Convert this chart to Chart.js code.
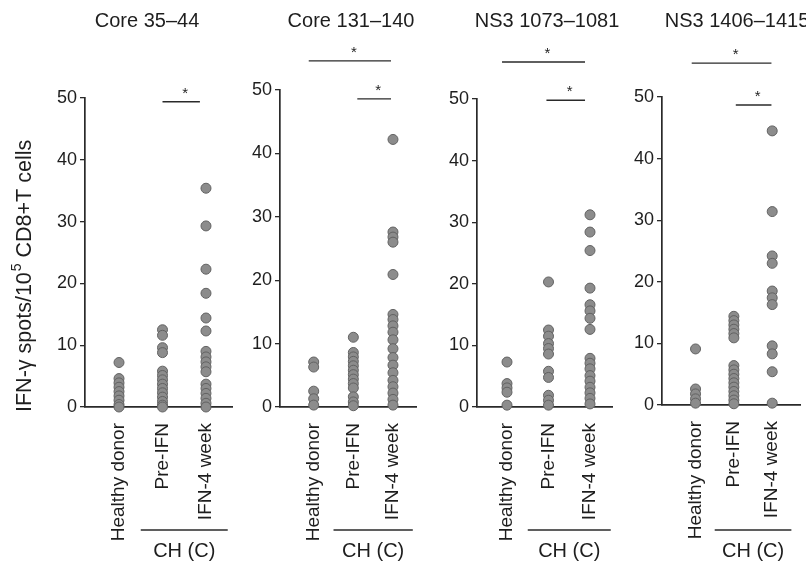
<!DOCTYPE html>
<html>
<head>
<meta charset="utf-8">
<script src="https://cdn.jsdelivr.net/npm/chart.js@4.4.1/dist/chart.umd.min.js"></script>
<style>
html, body { margin: 0; padding: 0; background: #fff; }
#wrap { position: relative; width: 806px; height: 562px; overflow: hidden; }
#wrap canvas { position: absolute; top: 0; }
</style>
</head>
<body>
<div id="wrap"></div>
<script>
var groups = ['Healthy donor', 'Pre-IFN', 'IFN-4 week'];
var titles = ['Core 35–44', 'Core 131–140', 'NS3 1073–1081', 'NS3 1406–1415'];
var yTicks = [0, 10, 20, 30, 40, 50];
var yTitle = ['IFN-γ spots/10', '5', ' CD8+T cells'];
var groupLabel = 'CH (C)';

// values (spots / 10^5 CD8+ T cells)
var core35Healthy = [7.2, 4.6, 3.9, 3.2, 2.5, 1.8, 1.1, 0.4, 0];
var core35Pre = [12.5, 11.6, 9.6, 8.8, 5.8, 5.1, 4.4, 3.7, 3.0, 2.3, 1.6, 0.9, 0.3, 0];
var core35Wk4 = [35.4, 29.3, 22.3, 18.4, 14.4, 12.3, 9, 8.1, 7.3, 6.5, 5.7, 3.7, 3.0, 2.2, 1.4, 0.6, 0];

var core131Healthy = [7.1, 6.3, 2.5, 1.3, 0.3];
var core131Pre = [11.0, 8.6, 7.9, 7.2, 6.5, 5.8, 5.1, 4.4, 3.7, 3.0, 1.6, 0.8, 0.2];
var core131Wk4 = [42.2, 27.6, 26.8, 26.0, 20.9, 14.6, 13.8, 12.8, 11.8, 10.6, 9.2, 7.8, 6.6, 5.4, 4.2, 3.2, 2.2, 1.2, 0.3];

var ns1073Healthy = [7.3, 3.8, 3.1, 2.4, 0.3];
var ns1073Pre = [20.3, 12.5, 11.5, 10.3, 9.5, 8.6, 5.8, 4.8, 1.9, 1.1, 0.3];
var ns1073Wk4 = [31.2, 28.4, 25.4, 19.3, 16.6, 15.6, 14.4, 12.6, 7.9, 7.1, 6.2, 5.1, 4.2, 3.2, 2.3, 1.4, 0.5];

var ns1406Healthy = [9.1, 2.6, 1.8, 1.0, 0.3];
var ns1406Pre = [14.4, 13.7, 13.0, 12.3, 11.6, 10.9, 6.4, 5.7, 5.0, 4.3, 3.6, 2.9, 2.2, 1.5, 0.8, 0.2];
var ns1406Wk4 = [44.5, 31.4, 24.2, 23.0, 18.5, 17.4, 16.3, 9.6, 8.3, 5.4, 0.3];

// significance bars: [from group, to group, height]
var core35Sig = [[2, 2.86, 49.4]];
var core131Sig = [[0.875, 2.95, 54.6], [2.1, 2.95, 48.6]];
var ns1073Sig = [[0.88, 2.88, 56], [1.95, 2.88, 49.8]];
var ns1406Sig = [[0.9, 2.98, 55.5], [2.05, 2.98, 48.7]];

var FONT = '"Liberation Sans", Arial, Helvetica, sans-serif';
var INK = '#1e1e1e';

var panels = [
  { left: 0, width: 240, top: 98, bottom: 407, axisX: 85, right: 232, xMin: 0.218, xMax: 3.598, titleX: 147,
    series: [core35Healthy, core35Pre, core35Wk4], sig: core35Sig, yTitle: true },
  { left: 240, width: 185, top: 90, bottom: 407, axisX: 280, right: 418, xMin: 0.15, xMax: 3.6, titleX: 351,
    series: [core131Healthy, core131Pre, core131Wk4], sig: core131Sig },
  { left: 430, width: 230, top: 99, bottom: 407, axisX: 477, right: 612, xMin: 0.277, xMax: 3.53, titleX: 547,
    series: [ns1073Healthy, ns1073Pre, ns1073Wk4], sig: ns1073Sig },
  { left: 616, width: 190, top: 97, bottom: 405, axisX: 662, right: 806, xMin: 0.125, xMax: 3.725, titleX: 737,
    series: [ns1406Healthy, ns1406Pre, ns1406Wk4], sig: ns1406Sig }
];

var decor = {
  id: 'decor',
  afterDraw: function (chart) {
    var o = chart.options.plugins.decor;
    var p = o.panel;
    var ctx = chart.ctx;
    var xs = chart.scales.x, ys = chart.scales.y;
    ctx.save();
    ctx.fillStyle = INK;
    ctx.strokeStyle = '#2a2a2a';
    // panel title
    ctx.font = '20px ' + FONT;
    ctx.textAlign = 'center';
    ctx.textBaseline = 'middle';
    ctx.fillText(o.title, p.titleX - p.left, 21);
    // significance bars
    ctx.lineWidth = 1.4;
    p.sig.forEach(function (s) {
      var x1 = xs.getPixelForValue(s[0]), x2 = xs.getPixelForValue(s[1]);
      var y = ys.getPixelForValue(s[2]);
      ctx.beginPath(); ctx.moveTo(x1, y); ctx.lineTo(x2, y); ctx.stroke();
      ctx.font = '15px ' + FONT;
      ctx.fillText('*', (x1 + x2) / 2 + 4, y - 8);
    });
    // patient group bracket
    var bx1 = xs.getPixelForValue(1.5), bx2 = xs.getPixelForValue(3.5);
    ctx.beginPath(); ctx.moveTo(bx1, 530); ctx.lineTo(bx2, 530); ctx.stroke();
    ctx.font = '20px ' + FONT;
    ctx.fillText(groupLabel, (bx1 + bx2) / 2, 551);
    // y axis title
    if (p.yTitle) {
      ctx.translate(25, 412);
      ctx.rotate(-Math.PI / 2);
      ctx.textAlign = 'left';
      ctx.font = '21.5px ' + FONT;
      var w1 = ctx.measureText(yTitle[0]).width;
      ctx.fillText(yTitle[0], 0, 0);
      ctx.font = '14px ' + FONT;
      var w2 = ctx.measureText(yTitle[1]).width;
      ctx.fillText(yTitle[1], w1 + 1, -8);
      ctx.font = '21.5px ' + FONT;
      ctx.fillText(yTitle[2], w1 + w2 + 1, 0);
    }
    ctx.restore();
  }
};

function toPoints(x, vals) {
  return vals.map(function (v) { return { x: x, y: v }; });
}

var wrap = document.getElementById('wrap');
panels.forEach(function (p, i) {
  var cv = document.createElement('canvas');
  cv.width = p.width;
  cv.height = 562;
  cv.style.left = p.left + 'px';
  wrap.appendChild(cv);

  var sets = p.series.map(function (vals, g) {
    return {
      data: toPoints(g + 1, vals),
      pointRadius: 5,
      pointBackgroundColor: 'rgb(140,140,140)',
      pointBorderColor: 'rgb(98,98,98)',
      pointBorderWidth: 1,
      showLine: false,
      clip: false
    };
  });

  new Chart(cv, {
    type: 'scatter',
    data: { datasets: sets },
    options: {
      responsive: false,
      animation: false,
      events: [],
      layout: {
        padding: {
          left: p.axisX - p.left - 40,
          right: p.left + p.width - p.right,
          top: p.top,
          bottom: 562 - p.bottom - 140
        }
      },
      plugins: {
        legend: { display: false },
        tooltip: { enabled: false },
        decor: { panel: p, title: titles[i] }
      },
      scales: {
        x: {
          type: 'linear',
          min: p.xMin,
          max: p.xMax,
          afterBuildTicks: function (s) { s.ticks = [1, 2, 3].map(function (v) { return { value: v }; }); },
          afterFit: function (s) { s.height = 140; },
          grid: { display: false },
          border: { display: true, color: '#2a2a2a', width: 1.7 },
          ticks: {
            minRotation: 90, maxRotation: 90, autoSkip: false, padding: 8,
            color: INK, font: { family: FONT, size: 19 },
            callback: function (v) { return groups[v - 1]; }
          }
        },
        y: {
          min: 0,
          max: 50,
          afterBuildTicks: function (s) { s.ticks = yTicks.map(function (v) { return { value: v }; }); },
          afterFit: function (s) { s.width = 40; },
          grid: { drawOnChartArea: false, drawTicks: true, tickLength: 5, color: '#2a2a2a', lineWidth: 1.3 },
          border: { display: true, color: '#2a2a2a', width: 1.7 },
          ticks: { padding: 3, color: INK, font: { family: FONT, size: 18 } }
        }
      }
    },
    plugins: [decor]
  });
});
</script>
</body>
</html>
